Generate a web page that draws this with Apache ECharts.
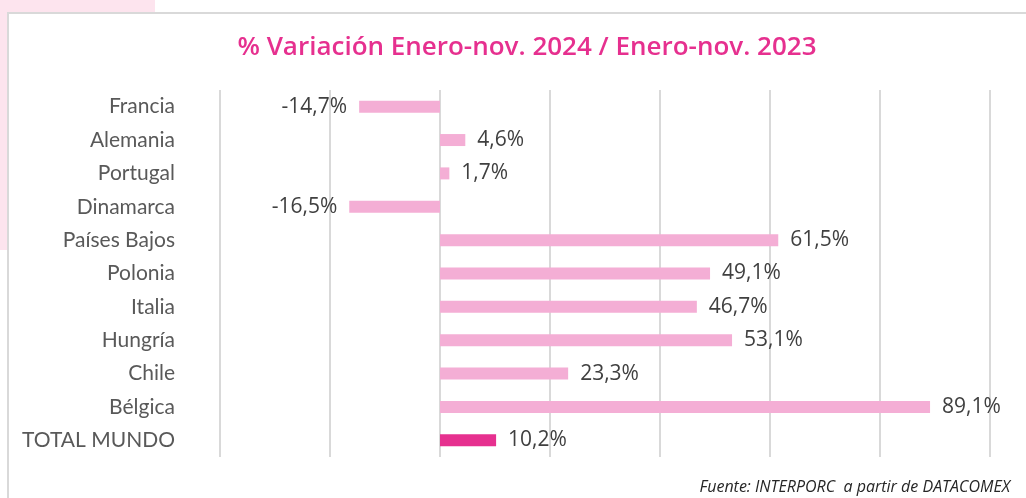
<!DOCTYPE html>
<html>
<head>
<meta charset="utf-8">
<script src="https://cdn.jsdelivr.net/npm/echarts@6/dist/echarts.min.js"></script>
<style>
  html, body { margin: 0; padding: 0; background: #fff; }
  #chart { width: 1026px; height: 498px; }
</style>
</head>
<body>
<div id="chart"></div>
<script>
// Export variation by destination, Jan–Nov 2024 vs Jan–Nov 2023 (%)
const categories = ['Francia', 'Alemania', 'Portugal', 'Dinamarca', 'Países Bajos', 'Polonia', 'Italia', 'Hungría', 'Chile', 'Bélgica', 'TOTAL MUNDO'];
const variation = [-14.7, 4.6, 1.7, -16.5, 61.5, 49.1, 46.7, 53.1, 23.3, 89.1, 10.2];
const totalLabel = 'TOTAL MUNDO';

const barPink = '#f4aed5';
const totalPink = '#e6308f';

const fmt = v => v.toFixed(1).replace('.', ',') + '%';

const chart = echarts.init(document.getElementById('chart'), null, { renderer: 'canvas' });

chart.setOption({
  animation: false,
  backgroundColor: '#ffffff',
  graphic: [
    { type: 'rect', z: -10, shape: { x: 0, y: 0, width: 155, height: 250 }, style: { fill: '#fde4ee' } },
    { type: 'rect', z: -9, shape: { x: 8, y: 13, width: 1030, height: 500 }, style: { fill: '#ffffff', stroke: '#d9d9d9', lineWidth: 2 } }
  ],
  title: [
    {
      text: '% Variación Enero-nov. 2024 / Enero-nov. 2023',
      left: 522, top: 30, textAlign: 'center',
      textStyle: { color: totalPink, fontFamily: 'Open Sans', fontWeight: 600, fontSize: 26 }
    },
    {
      text: 'Fuente: INTERPORC  a partir de DATACOMEX',
      right: 11, top: 474,
      textStyle: { color: '#262626', fontFamily: 'Open Sans', fontStyle: 'italic', fontWeight: 'normal', fontSize: 16 }
    }
  ],
  grid: { left: 220, right: 36, top: 90, bottom: 41, containLabel: false },
  xAxis: {
    type: 'value', min: -40, max: 100, interval: 20,
    axisLabel: { show: false },
    axisLine: { show: false },
    axisTick: { show: false },
    splitLine: { lineStyle: { color: '#d9d9d9', width: 2 } }
  },
  yAxis: {
    type: 'category', inverse: true, data: categories,
    axisLine: { show: false },
    axisTick: { show: false },
    axisLabel: { margin: 45, color: '#595959', fontFamily: 'Lato', fontSize: 21 }
  },
  series: [{
    type: 'bar',
    barWidth: 12,
    data: variation.map((v, i) => ({
      value: v,
      itemStyle: { color: categories[i] === totalLabel ? totalPink : barPink },
      label: { position: v < 0 ? 'left' : 'right' }
    })),
    label: {
      show: true, distance: 12,
      color: '#404040', fontFamily: 'Open Sans', fontSize: 21,
      formatter: p => fmt(p.value)
    }
  }]
});
</script>
</body>
</html>
